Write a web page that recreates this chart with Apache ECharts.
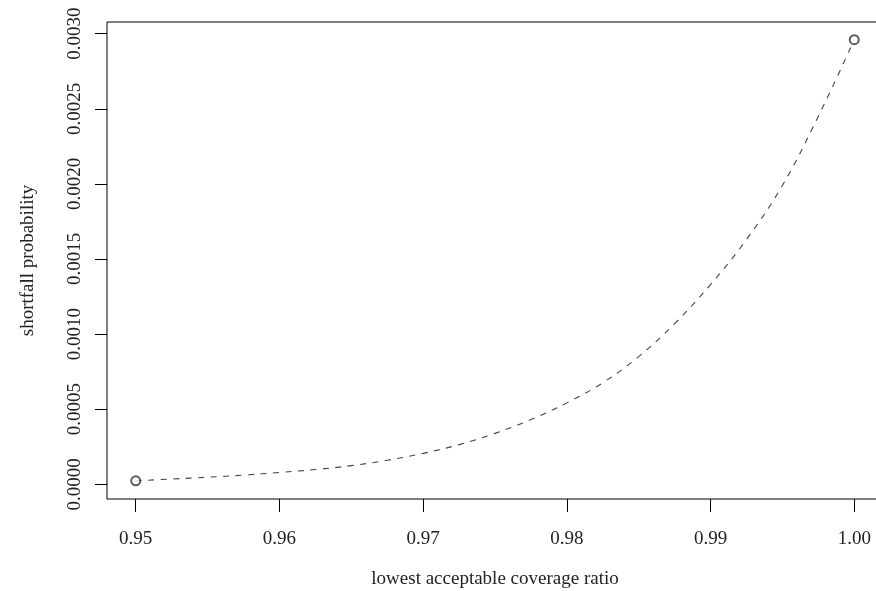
<!DOCTYPE html>
<html>
<head>
<meta charset="utf-8">
<script src="https://cdn.jsdelivr.net/npm/echarts@6/dist/echarts.min.js"></script>
<style>
html,body{margin:0;padding:0;background:#fff;}
#chart{width:876px;height:591px;}
</style>
</head>
<body>
<div id="chart"></div>
<script>
// Data
const coverageRatio = [0.9500,0.9525,0.9550,0.9575,0.9600,0.9625,0.9650,0.9675,0.9700,0.9725,0.9750,0.9775,0.9800,0.9825,0.9850,0.9875,0.9900,0.9925,0.9950,0.9975,1.0000];
const shortfallProb = [0.000023,0.000035,0.000047,0.000061,0.000079,0.000098,0.000124,0.000160,0.000206,0.000264,0.000339,0.000431,0.000542,0.000676,0.000850,0.001070,0.001330,0.001630,0.001990,0.002450,0.002960];
const endpointIdx = [0, 20];
const xTicks = [0.95,0.96,0.97,0.98,0.99,1.00];
const yTicks = [0,0.0005,0.0010,0.0015,0.0020,0.0025,0.0030];

const font = '"Liberation Serif","DejaVu Serif",serif';
const lineData = coverageRatio.map((x,i)=>[x, shortfallProb[i]]);
const pointData = endpointIdx.map(i=>[coverageRatio[i], shortfallProb[i]]);

const chart = echarts.init(document.getElementById('chart'), null, {renderer:'canvas'});
chart.setOption({
  animation:false,
  backgroundColor:'#fff',
  grid:{left:107, top:22, width:776, height:477, containLabel:false, outerBoundsMode:'none',
        show:true, borderColor:'#000', borderWidth:1, backgroundColor:'transparent'},
  xAxis:{
    type:'value', min:0.948, max:1.002,
    name:'lowest acceptable coverage ratio', nameLocation:'middle', nameGap:71,
    nameTextStyle:{fontFamily:font, fontSize:19, color:'#222'},
    axisLine:{show:false, onZero:false},
    splitLine:{show:false},
    axisTick:{show:true, inside:false, length:13, lineStyle:{color:'#000', width:1}, customValues:xTicks},
    axisLabel:{show:true, margin:31, fontFamily:font, fontSize:19, color:'#222', customValues:xTicks,
      formatter:v=>v.toFixed(2)}
  },
  yAxis:{
    type:'value', min:-0.0000980, max:0.003078,
    name:'shortfall probability', nameLocation:'middle', nameGap:69,
    nameTextStyle:{fontFamily:font, fontSize:19, color:'#222'},
    axisLine:{show:false, onZero:false},
    splitLine:{show:false},
    axisTick:{show:true, inside:false, length:12, lineStyle:{color:'#000', width:1}, customValues:yTicks},
    axisLabel:{show:true, rotate:90, margin:22, fontFamily:font, fontSize:19, color:'#222', customValues:yTicks,
      formatter:v=>v.toFixed(4)}
  },
  series:[
    {type:'line', data:lineData, smooth:0.4, showSymbol:false, symbol:'none',
     lineStyle:{color:'#444', width:1.1, type:[6,6.5]}, z:2},
    {type:'scatter', data:pointData, symbol:'emptyCircle', symbolSize:9,
     itemStyle:{color:'#333', borderColor:'#333', borderWidth:1.2}, z:3}
  ]
});
</script>
</body>
</html>
